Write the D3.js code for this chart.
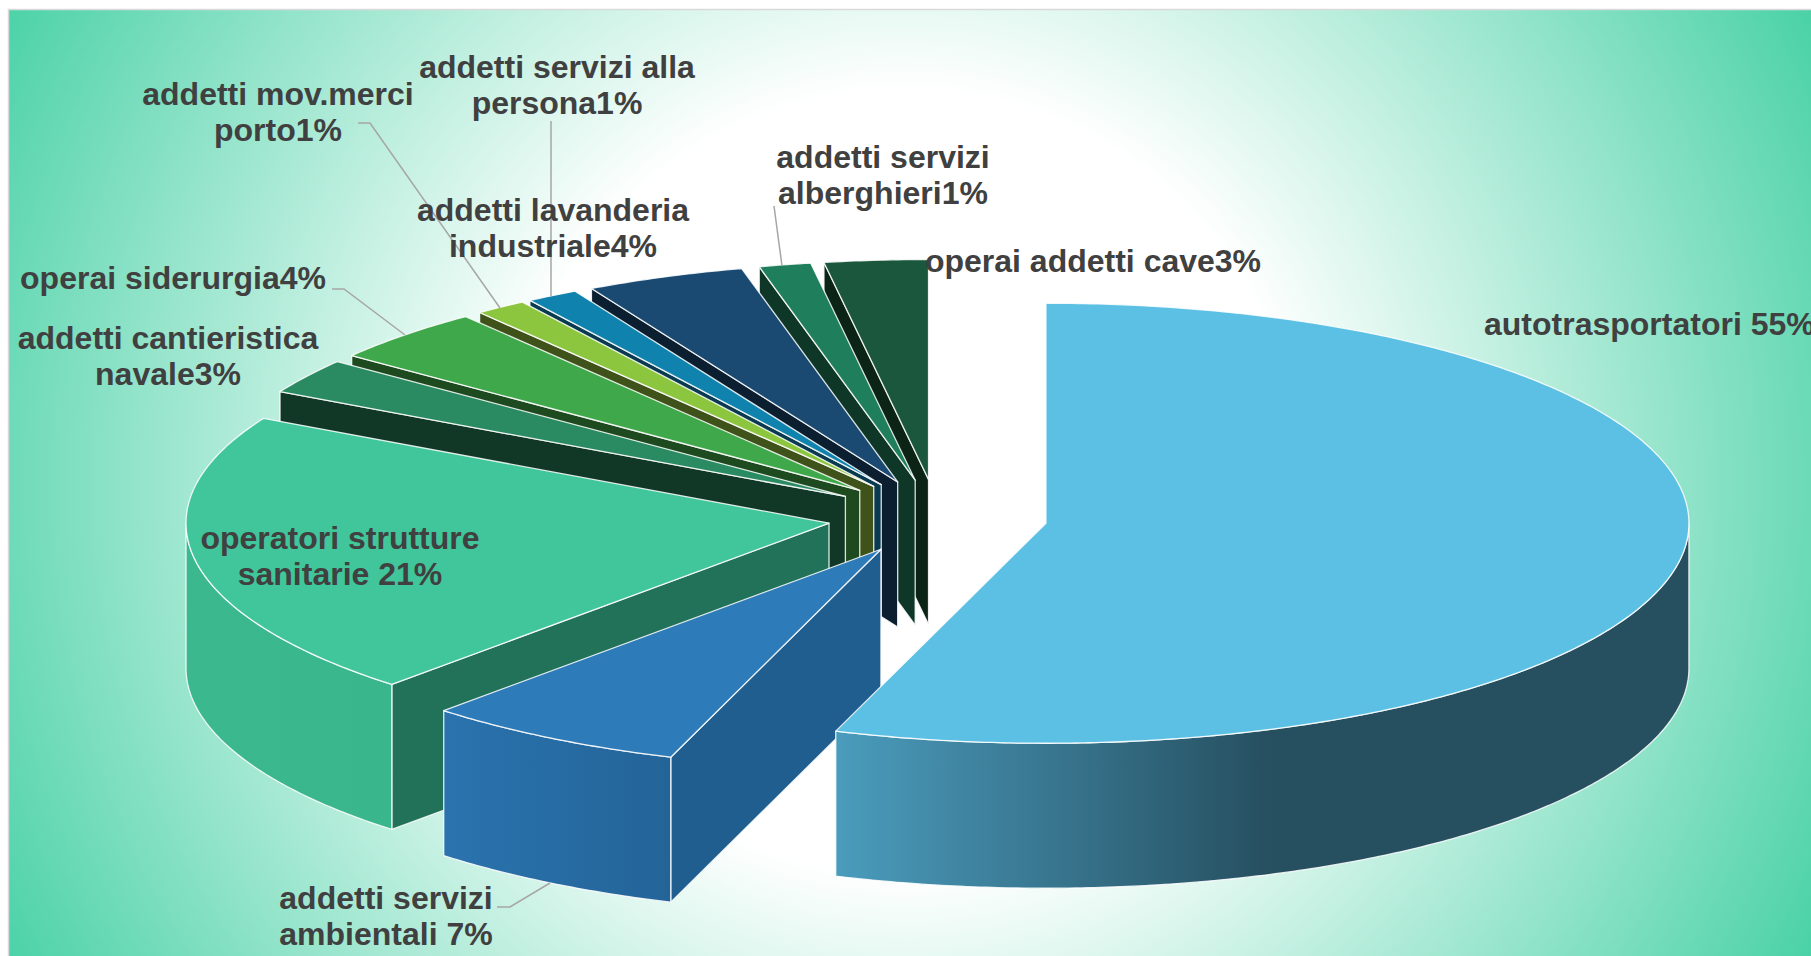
<!DOCTYPE html>
<html>
<head>
<meta charset="utf-8">
<script src="https://cdn.jsdelivr.net/npm/d3@7"></script>
<style>
  html, body { margin: 0; padding: 0; background: #fff; overflow: hidden; }
  text { font-family: "Liberation Sans", Arial, sans-serif; font-weight: bold; font-size: 32px; fill: #404040; }
</style>
</head>
<body>
<div id="chart"></div>
<script>
// values, the labels show them rounded
const categories = ["autotrasportatori", "addetti servizi ambientali", "operatori strutture sanitarie",
  "addetti cantieristica navale", "operai siderurgia", "addetti mov.merci porto",
  "addetti servizi alla persona", "addetti lavanderia industriale", "addetti servizi alberghieri", "operai addetti cave"]
const values = [55.3, 6.6, 21.0, 2.6, 4.0, 1.3, 1.3, 4.0, 1.3, 2.6]
const labelLines = [
  ["autotrasportatori 55%"],
  ["addetti servizi", "ambientali 7%"],
  ["operatori strutture", "sanitarie 21%"],
  ["addetti cantieristica", "navale3%"],
  ["operai siderurgia4%"],
  ["addetti mov.merci", "porto1%"],
  ["addetti servizi alla", "persona1%"],
  ["addetti lavanderia", "industriale4%"],
  ["addetti servizi", "alberghieri1%"],
  ["operai addetti cave3%"]
]
const topColors = ["#5bc0e3", "#2e7bb9", "#40c69a", "#2a8a62", "#3fa84a", "#8cc63f", "#0f83ae", "#1a4a72", "#1f7f5c", "#1a573c"]
const wallColors = ["#264f60", "#1f5e8e", "#217259", "#113827", "#1d4a1e", "#3f5219", "#0a3a50", "#0b1f30", "#0e3728", "#0b2416"]

const width = 1811
const height = 956

// geometry of the tilted pie
const cx = 937.5
const cy = 517
const rx = 643
const ry = 220
const depth = 145
const explode = 0.171

// label anchors and leader lines, same order as categories
const labelLayout = [
  {x: 1484, y: 335, anchor: "start"},
  {x: 386, y: 909, leader: [[497, 907], [510, 907], [550, 883]]},
  {x: 340, y: 549},
  {x: 168, y: 349},
  {x: 173, y: 289, leader: [[332, 289], [344, 289], [405, 335]]},
  {x: 278, y: 105, leader: [[358, 123], [370, 123], [500, 308]]},
  {x: 557, y: 78, leader: [[551, 121], [551, 296]]},
  {x: 553, y: 221},
  {x: 883, y: 168, leader: [[774, 206], [782, 266]]},
  {x: 1093, y: 272}
]

const svg = d3.select("#chart").append("svg").attr("width", width).attr("height", height).style("display", "block")
const defs = svg.append("defs")

// sfondo: bianco al centro, verde agli angoli
const bg = defs.append("radialGradient").attr("id", "bg").attr("gradientUnits", "userSpaceOnUse")
  .attr("cx", 905).attr("cy", 482).attr("r", 1030)
bg.append("stop").attr("offset", 0.38).attr("stop-color", "#fff")
bg.append("stop").attr("offset", 1).attr("stop-color", "#48d1a5")

function wallGradient(id, x1, x2, c1, c2) {
  const g = defs.append("linearGradient").attr("id", id).attr("gradientUnits", "userSpaceOnUse")
    .attr("x1", x1).attr("x2", x2).attr("y1", 0).attr("y2", 0)
  g.append("stop").attr("offset", 0).attr("stop-color", c1)
  g.append("stop").attr("offset", 1).attr("stop-color", c2)
}
wallGradient("wall0", 836, 1270, "#4a9cbd", "#264f60")
wallGradient("wall1", 446, 672, "#2a73ae", "#236498")
wallGradient("wall2", 186, 393, "#3cb88f", "#3ab68c")

svg.append("rect").attr("x", 8.5).attr("y", 9.5).attr("width", width).attr("height", height)
  .attr("fill", "url(#bg)").attr("stroke", "#d9d9d9").attr("stroke-width", 1.5)

const xScale = d3.scaleLinear().domain([-1, 1]).range([cx - rx, cx + rx])
const yScale = d3.scaleLinear().domain([-1, 1]).range([cy - ry, cy + ry])

const arcs = d3.pie().sort(null).value(d => d)(values)

const line = d3.line()

// point on a slice: r from 0 to 1, angle clockwise from north, z = pixels down
function pt(d, r, a, z) {
  const mid = (d.startAngle + d.endAngle) / 2
  return [
    xScale(Math.sin(a) * r + Math.sin(mid) * explode),
    yScale(-Math.cos(a) * r - Math.cos(mid) * explode) + z
  ]
}

function rimAngles(a0, a1) {
  const n = Math.max(2, Math.ceil((a1 - a0) / 0.01))
  return d3.range(n + 1).map(i => a0 + (a1 - a0) * i / n)
}

const sliceStyle = sel => sel.attr("stroke", "#fff").attr("stroke-opacity", 0.85).attr("stroke-width", 1.3).attr("stroke-linejoin", "round")

// dietro prima, la fetta grande alla fine
const order = d3.range(1, values.length).reverse().concat([0])
const slices = svg.append("g").classed("slices", true)

order.forEach(i => {
  const d = arcs[i]
  const g = slices.append("g")

  // radial wall on the start side, not visible on the big slice
  if (i !== 0) {
    g.append("path")
      .attr("d", line([pt(d, 0, d.startAngle, 0), pt(d, 1, d.startAngle, 0), pt(d, 1, d.startAngle, depth), pt(d, 0, d.startAngle, depth)]) + "Z")
      .attr("fill", wallColors[i])
      .call(sliceStyle)
  }

  // outer wall, only the front half of the ellipse shows
  const a0 = Math.max(d.startAngle, Math.PI / 2)
  const a1 = Math.min(d.endAngle, Math.PI * 1.5)
  if (a0 < a1) {
    const rim = rimAngles(a0, a1)
    const upper = rim.map(a => pt(d, 1, a, 0))
    const lower = rim.map(a => pt(d, 1, a, depth)).reverse()
    g.append("path")
      .attr("d", line(upper.concat(lower)) + "Z")
      .attr("fill", `url(#wall${i})`)
      .call(sliceStyle)
  }

  // top face
  const rim = rimAngles(d.startAngle, d.endAngle).map(a => pt(d, 1, a, 0))
  g.append("path")
    .attr("d", line([pt(d, 0, d.startAngle, 0)].concat(rim)) + "Z")
    .attr("fill", topColors[i])
    .call(sliceStyle)
})

// leader lines
svg.append("g").selectAll("path")
  .data(labelLayout.filter(l => l.leader))
  .enter()
  .append("path")
  .attr("d", l => line(l.leader))
  .attr("fill", "none")
  .attr("stroke", "#a6a6a6")
  .attr("stroke-width", 1.5)

// labels
const labels = svg.append("g").selectAll("text")
  .data(labelLines)
  .enter()
  .append("text")
  .attr("text-anchor", (d, i) => labelLayout[i].anchor || "middle")

labels.each(function (lines, i) {
  d3.select(this).selectAll("tspan")
    .data(lines)
    .enter()
    .append("tspan")
    .attr("x", labelLayout[i].x)
    .attr("y", (t, j) => labelLayout[i].y + j * 36)
    .text(t => t)
})
</script>
</body>
</html>
